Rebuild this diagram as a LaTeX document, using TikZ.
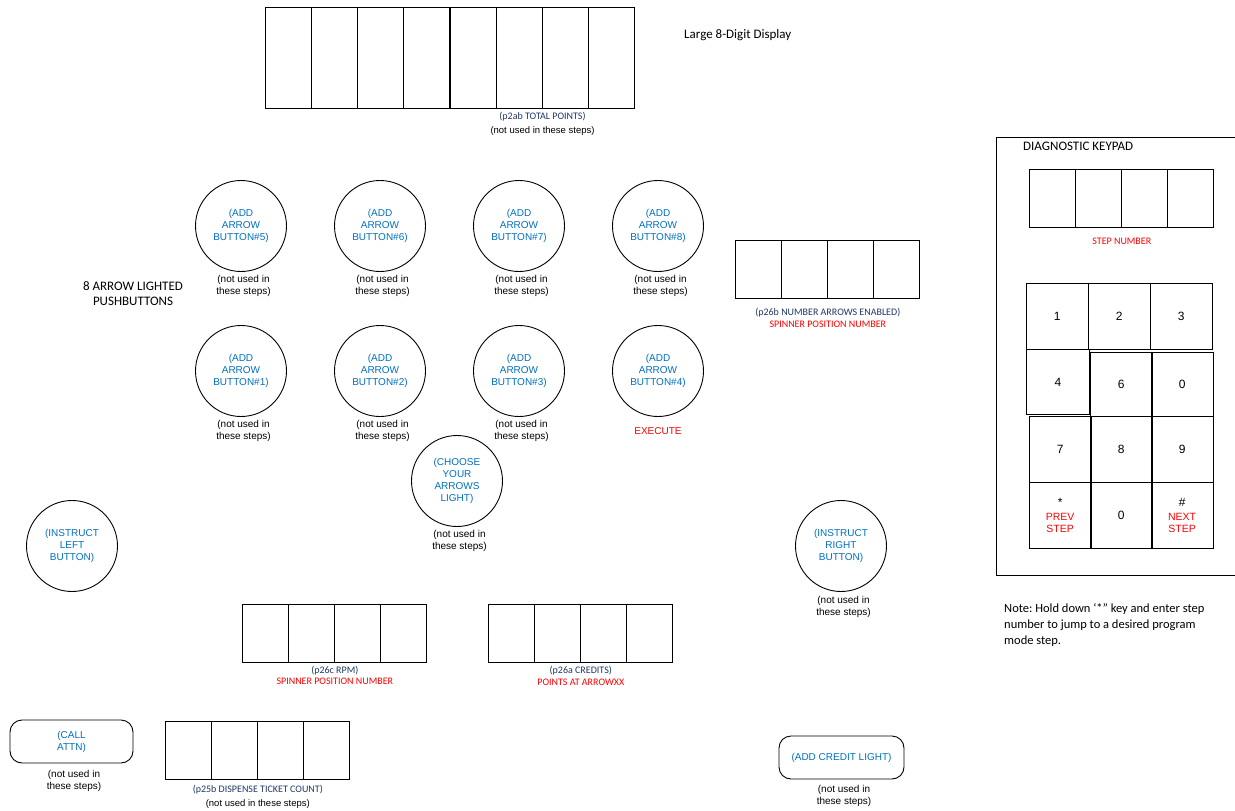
\documentclass[tikz,border=0pt]{standalone}
\usepackage{fontspec}
\usepackage{tikz}
\usetikzlibrary{positioning}
\newfontfamily\armfont{Liberation Sans}
\newfontfamily\calfont{Carlito}
\definecolor{btnblue}{RGB}{0,112,192}
\definecolor{capnavy}{RGB}{31,56,100}
\definecolor{capred}{RGB}{255,0,0}
\tikzset{push button/.style={circle,draw,line width=0.9pt,minimum size=91pt,inner sep=0pt,align=center,text=btnblue,font=\armfont\fontsize{10}{12}\selectfont},
lamp box/.style={rectangle,rounded corners=12pt,draw,line width=0.9pt,inner sep=0pt,align=center,text=btnblue,font=\armfont\fontsize{10}{12}\selectfont},
}

\begin{document}
\begin{tikzpicture}[x=1pt,y=-1pt,
		big cell/.style={draw,line width=0.8pt,anchor=north west,inner sep=0pt,minimum width=46.1pt,minimum height=101pt},
		small cell/.style={draw,line width=0.8pt,anchor=north west,inner sep=0pt,minimum width=46pt,minimum height=58pt},
		key/.style={draw,line width=0.8pt,anchor=north west,inner sep=0pt,minimum width=61.5pt,minimum height=66pt,align=center,font=\armfont\fontsize{12}{12}\selectfont},
		navy cap/.style={inner sep=0pt,text height=7pt,text depth=2pt,text=capnavy,font=\calfont\fontsize{10}{12}\selectfont},
		red cap/.style={inner sep=0pt,text height=7pt,text depth=2pt,text=capred,font=\calfont\fontsize{10}{12}\selectfont},
		unused/.style={inner sep=0pt,align=center,font=\armfont\fontsize{10}{12}\selectfont},
		big label/.style={inner sep=0pt,align=center,font=\calfont\fontsize{13}{15}\selectfont}]
		
		\useasboundingbox (0,0) rectangle (1235,811);
		
		\foreach \i in {0,...,7}
		\node[big cell] (tp\i) at (265+\i*46.125,7) {};
		\foreach \name/\x/\y in {ae/735/240,rpm/242/604,cr/488/604,tk/165/721,sn/1029/169}
		\foreach \i in {0,...,3}
		\node[small cell] (\name\i) at (\x+\i*46,\y) {};
		
		\node[navy cap] (tpcap) [below=3.5pt of tp5.south east] {(p2ab TOTAL POINTS)};
		\node[unused,text height=8pt,text depth=2pt,font=\armfont\fontsize{9.5}{12}\selectfont] [below=3.5pt of tpcap] {(not used in these steps)};
		\node[big label,anchor=west] (large) at (684,35) {Large 8-Digit Display};
		
		\node[push button] (b5) at (241,226) {(ADD\\ARROW\\BUTTON\#5)};
		\node[push button] (b6) at (380,226) {(ADD\\ARROW\\BUTTON\#6)};
		\node[push button] (b7) at (519,226) {(ADD\\ARROW\\BUTTON\#7)};
		\node[push button] (b8) at (658,226) {(ADD\\ARROW\\BUTTON\#8)};
		\node[push button] (b1) at (241,371) {(ADD\\ARROW\\BUTTON\#1)};
		\node[push button] (b2) at (380,371) {(ADD\\ARROW\\BUTTON\#2)};
		\node[push button] (b3) at (519,371) {(ADD\\ARROW\\BUTTON\#3)};
		\node[push button] (b4) at (658,371) {(ADD\\ARROW\\BUTTON\#4)};
		\foreach \b in {b5,b6,b7,b8,b1,b2,b3}
		\node[unused,xshift=2.5pt] [below=3pt of \b] {(not used in\\these steps)};
		\node[red cap,font=\armfont\fontsize{10}{12}\selectfont] (exec) [below=10pt of b4] {EXECUTE};
		\node[big label] (arrows) at (133,294) {8 ARROW LIGHTED\\PUSHBUTTONS};
		
		\node[push button] (choose) at (457,481) {(CHOOSE\\YOUR\\ARROWS\\LIGHT)};
		\node[unused,xshift=2.5pt] [below=3pt of choose] {(not used in\\these steps)};
		\node[push button] (left) at (72,546) {(INSTRUCT\\LEFT\\BUTTON)};
		\node[push button] (right) at (841,546) {(INSTRUCT\\RIGHT\\BUTTON)};
		\node[unused,xshift=2.5pt] [below=4pt of right] {(not used in\\these steps)};
		
		\node[navy cap] (aecap) [below=9.5pt of ae1.south east] {(p26b NUMBER ARROWS ENABLED)};
		\node[red cap] [below=3pt of aecap] {SPINNER POSITION NUMBER};
		\node[navy cap] (rpmcap) [below=3.5pt of rpm1.south east] {(p26c RPM)};
		\node[red cap] [below=2pt of rpmcap] {SPINNER POSITION NUMBER};
		\node[navy cap] (crcap) [below=3.5pt of cr1.south east] {(p26a CREDITS)};
		\node[red cap] [below=3pt of crcap] {POINTS AT ARROWXX};
		\node[navy cap] (tkcap) [below=5.5pt of tk1.south east] {(p25b DISPENSE TICKET COUNT)};
		\node[unused,text height=8pt,text depth=2pt,font=\armfont\fontsize{9.5}{12}\selectfont] [below=3.5pt of tkcap] {(not used in these steps)};
		
		\node[lamp box,minimum width=123pt,minimum height=43pt] (attn) at (71.5,741.5) {(CALL\\ATTN)};
		\node[unused,xshift=2.5pt] [below=7pt of attn] {(not used in\\these steps)};
		\node[lamp box,minimum width=125pt,minimum height=43pt] (credit) at (841.5,757.5) {(ADD CREDIT LIGHT)};
		\node[unused,xshift=2.5pt] [below=6pt of credit] {(not used in\\these steps)};
		
		\draw[line width=0.8pt] (1235,137) -- (996,137) -- (996,575) -- (1235,575);
		\node[big label,anchor=west] (diag) at (1023,146) {DIAGNOSTIC KEYPAD};
		\node[red cap] [below=9.5pt of sn1.south east] {STEP NUMBER};
		
		\node[key] (k1) at (1026,283) {1};
		\node[key] (k2) at (1088,283) {2};
		\node[key] (k3) at (1150,283) {3};
		\node[key,minimum width=63pt,minimum height=65pt] (k4) at (1026,349) {4};
		\node[key,minimum height=64pt] (k6) at (1090,352) {6};
		\node[key,minimum height=64pt] (k0a) at (1151,352) {0};
		\node[key] (k7) at (1029,416) {7};
		\node[key] (k8) at (1090,416) {8};
		\node[key] (k9) at (1151,416) {9};
		\node[key] (kstar) at (1029,482) {*\\[2pt]{\color{capred}\fontsize{10.5}{11}\selectfont PREV}\\{\color{capred}\fontsize{10.5}{11}\selectfont STEP}};
		\node[key] (k0b) at (1090,482) {0};
		\node[key] (khash) at (1151,482) {\#\\[2pt]{\color{capred}\fontsize{10.5}{11}\selectfont NEXT}\\{\color{capred}\fontsize{10.5}{11}\selectfont STEP}};
		
		\node[inner sep=0pt,anchor=west,align=left,font=\calfont\fontsize{12.5}{16}\selectfont] (note) at (1004,625) {Note:\ Hold down ‘*” key and enter step\\number to jump to a desired program\\mode step.};
		
		\end{tikzpicture}
\end{document}
